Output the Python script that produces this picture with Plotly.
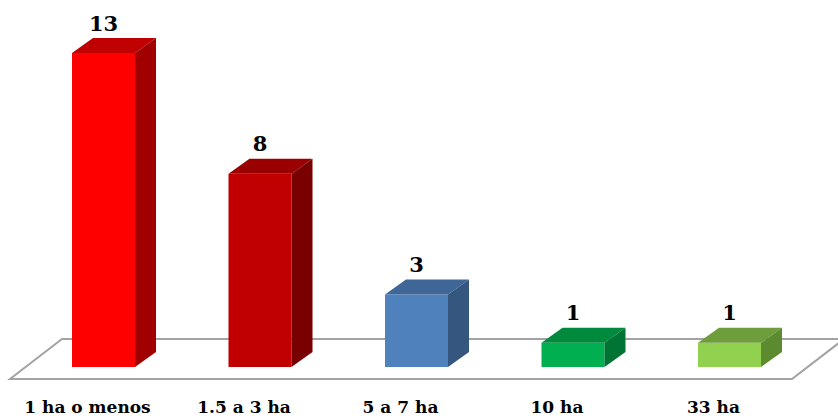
import plotly.graph_objects as go

# Farm size categories and number of producers
categories = ["1 ha o menos", "1.5 a 3 ha", "5 a 7 ha", "10 ha", "33 ha"]
values = [13, 8, 3, 1, 1]

# Face colours per bar: front, top, side
front_colors = ["#FF0000", "#C00000", "#4F81BD", "#00B050", "#92D050"]
top_colors = ["#C00000", "#9A0000", "#3E6797", "#008A3E", "#6E9E3C"]
side_colors = ["#A00000", "#780000", "#34567F", "#007533", "#5C8A2E"]

W, H = 838, 418
PX_STEP = 156.5          # horizontal pixels between bar centres
PX_UNIT = 24.15          # vertical pixels per unit
X0_PX = 103.5            # pixel centre of the first bar
BASE_PX = 367            # pixel row of the bar bases

bar_w = 63 / PX_STEP     # bar width in category units
dx = 21 / PX_STEP        # depth offset (x)
dy = 15 / PX_UNIT        # depth offset (y)

x_range = [-X0_PX / PX_STEP, (W - X0_PX) / PX_STEP]
y_range = [(BASE_PX - H) / PX_UNIT, BASE_PX / PX_UNIT]


def px_x(p):
    return (p - X0_PX) / PX_STEP


def px_y(p):
    return (BASE_PX - p) / PX_UNIT


fig = go.Figure()

# floor of the 3-D plot area
floor_x = [px_x(10), px_x(62), px_x(844), px_x(792), px_x(10)]
floor_y = [px_y(379), px_y(339), px_y(339), px_y(379), px_y(379)]
fig.add_shape(type="path",
              path="M " + " L ".join(f"{a},{b}" for a, b in zip(floor_x, floor_y)) + " Z",
              line=dict(color="#A3A3A3", width=2), fillcolor="white", layer="below")

xs = list(range(len(categories)))

# front faces
fig.add_trace(go.Bar(x=xs, y=values, width=bar_w, marker=dict(color=front_colors, line=dict(width=0)),
                     hoverinfo="skip"))

# top and side faces
for i, v in enumerate(values):
    l, r = i - bar_w / 2, i + bar_w / 2
    fig.add_trace(go.Scatter(x=[l, r, r + dx, l + dx, l], y=[v, v, v + dy, v + dy, v],
                             fill="toself", fillcolor=top_colors[i], mode="lines",
                             line=dict(width=0), hoverinfo="skip"))
    fig.add_trace(go.Scatter(x=[r, r + dx, r + dx, r, r], y=[0, dy, v + dy, v, 0],
                             fill="toself", fillcolor=side_colors[i], mode="lines",
                             line=dict(width=0), hoverinfo="skip"))

# value labels
fig.add_trace(go.Scatter(x=xs, y=[v + dy + 0.53 for v in values], mode="text",
                         text=[str(v) for v in values], textposition="middle center",
                         textfont=dict(family="DejaVu Serif", size=21, color="black", weight="bold"),
                         hoverinfo="skip"))

# category labels along the front edge of the floor
fig.add_trace(go.Scatter(x=[i - 16 / PX_STEP for i in xs], y=[px_y(408.5)] * len(xs), mode="text",
                         text=categories, textposition="middle center",
                         textfont=dict(family="DejaVu Serif", size=17, color="black", weight="bold"),
                         hoverinfo="skip"))

fig.update_layout(
    width=W, height=H, margin=dict(l=0, r=0, t=0, b=0),
    paper_bgcolor="white", plot_bgcolor="white", showlegend=False,
    xaxis=dict(range=x_range, visible=False, fixedrange=True),
    yaxis=dict(range=y_range, visible=False, fixedrange=True),
)

fig.write_html("out.html")
